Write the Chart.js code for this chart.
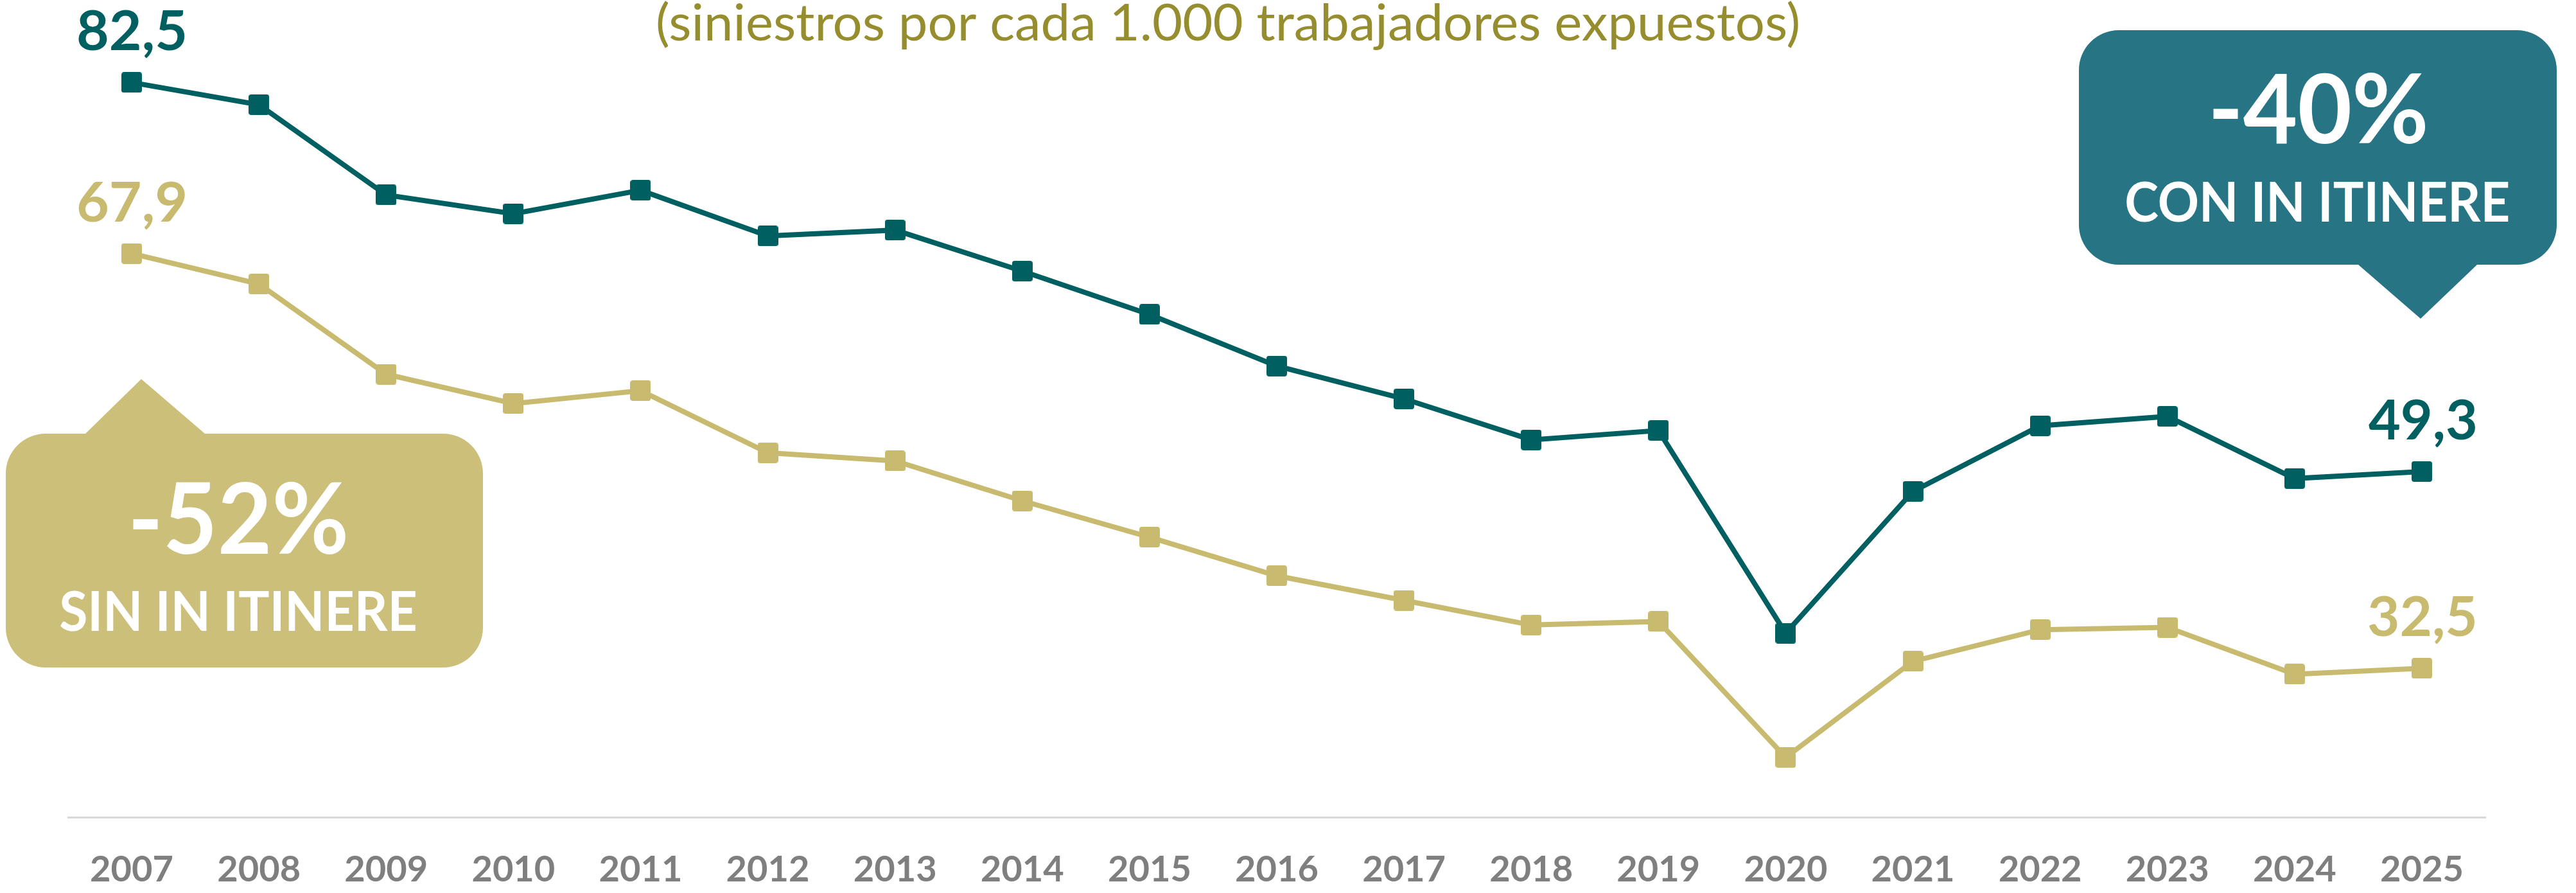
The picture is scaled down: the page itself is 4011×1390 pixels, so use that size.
<!DOCTYPE html>
<html>
<head>
<meta charset="utf-8">
<script src="https://cdn.jsdelivr.net/npm/chart.js@4.4.0/dist/chart.umd.min.js"></script>
<style>
html,body{margin:0;padding:0;background:#ffffff;overflow:hidden}
#wrap{position:relative;width:4011px;height:1390px}
</style>
</head>
<body>
<div id="wrap"><canvas id="c" width="4011" height="1390"></canvas></div>
<script>
// ---- data ----
const years = ['2007','2008','2009','2010','2011','2012','2013','2014','2015','2016','2017','2018','2019','2020','2021','2022','2023','2024','2025'];
const conItinere = [82.5, 80.6, 72.9, 71.3, 73.3, 69.4, 69.9, 66.4, 62.7, 58.3, 55.5, 52.0, 52.8, 35.5, 47.6, 53.2, 54.0, 48.7, 49.3];
const sinItinere = [67.9, 65.3, 57.6, 55.1, 56.2, 50.9, 50.2, 46.8, 43.7, 40.4, 38.3, 36.2, 36.5, 24.9, 33.1, 35.8, 36.0, 32.0, 32.5];
const valueLabelsCon = ['82,5', '49,3'];
const valueLabelsSin = ['67,9', '32,5'];
const subtitle = '(siniestros por cada 1.000 trabajadores expuestos)';
const calloutCon = ['-40%', 'CON IN ITINERE'];
const calloutSin = ['-52%', 'SIN IN ITINERE'];

const TEAL = '#005F61';
const GOLD = '#C8BB70';
const TEAL_BOX = '#277485';
const GOLD_BOX = '#CCBF7A';
const OLIVE = '#968E2E';

function inkText(ctx, text, left, right, baseline, font, color) {
  ctx.save();
  ctx.font = font;
  ctx.fillStyle = color;
  ctx.textAlign = 'left';
  ctx.textBaseline = 'alphabetic';
  const m = ctx.measureText(text);
  const inkW = m.actualBoundingBoxLeft + m.actualBoundingBoxRight;
  const sx = (right - left) / inkW;
  ctx.translate(left, baseline);
  ctx.scale(sx, 1);
  ctx.fillText(text, m.actualBoundingBoxLeft, 0);
  ctx.restore();
}

function bubble(ctx, l, t, r, b, rad, pointer, color) {
  ctx.save();
  ctx.fillStyle = color;
  ctx.beginPath();
  ctx.moveTo(l + rad, t);
  if (pointer.side === 'top') {
    ctx.lineTo(pointer.x1, t);
    ctx.lineTo(pointer.tipX, pointer.tipY);
    ctx.lineTo(pointer.x2, t);
  }
  ctx.lineTo(r - rad, t);
  ctx.arcTo(r, t, r, t + rad, rad);
  ctx.lineTo(r, b - rad);
  ctx.arcTo(r, b, r - rad, b, rad);
  if (pointer.side === 'bottom') {
    ctx.lineTo(pointer.x2, b);
    ctx.lineTo(pointer.tipX, pointer.tipY);
    ctx.lineTo(pointer.x1, b);
  }
  ctx.lineTo(l + rad, b);
  ctx.arcTo(l, b, l, b - rad, rad);
  ctx.lineTo(l, t + rad);
  ctx.arcTo(l, t, l + rad, t, rad);
  ctx.closePath();
  ctx.fill();
  ctx.restore();
}

function squareMarker(color) {
  const s = 32, r = 4;
  const cv = document.createElement('canvas');
  cv.width = s; cv.height = s;
  const c = cv.getContext('2d');
  c.fillStyle = color;
  c.beginPath();
  c.moveTo(r, 0);
  c.lineTo(s - r, 0); c.arcTo(s, 0, s, r, r);
  c.lineTo(s, s - r); c.arcTo(s, s, s - r, s, r);
  c.lineTo(r, s); c.arcTo(0, s, 0, s - r, r);
  c.lineTo(0, r); c.arcTo(0, 0, r, 0, r);
  c.closePath();
  c.fill();
  return cv;
}

const annotations = {
  id: 'annotations',
  afterDraw(chart) {
    const ctx = chart.ctx;
    inkText(ctx, subtitle, 1024, 2800, 63, '400 79px Lato', OLIVE);

    const mCon = chart.getDatasetMeta(0).data;
    const mSin = chart.getDatasetMeta(1).data;
    const last = years.length - 1;
    const lbl = (pt, text, color) => {
      inkText(ctx, text, pt.x - 83, pt.x + 83, pt.y - 50, '700 86px Lato', color);
    };
    lbl(mCon[0], valueLabelsCon[0], TEAL);
    lbl(mCon[last], valueLabelsCon[1], TEAL);
    lbl(mSin[0], valueLabelsSin[0], GOLD);
    lbl(mSin[last], valueLabelsSin[1], GOLD);

    bubble(ctx, 3237, 47, 3981, 412, 62, {side:'bottom', x1:3672, x2:3857, tipX:3769, tipY:496}, TEAL_BOX);
    inkText(ctx, calloutCon[0], 3446, 3777, 223, '700 150px Lato', '#ffffff');
    inkText(ctx, calloutCon[1], 3311, 3906, 345, '700 86px Lato', '#ffffff');

    bubble(ctx, 9, 675, 752, 1039, 62, {side:'top', x1:133, x2:319, tipX:220, tipY:590}, GOLD_BOX);
    inkText(ctx, calloutSin[0], 207, 538, 862, '700 153px Lato', '#ffffff');
    inkText(ctx, calloutSin[1], 94, 647, 982, '700 87px Lato', '#ffffff');
  }
};

const ds = (label, data, color) => ({
  label, data,
  borderColor: color,
  backgroundColor: color,
  borderWidth: 8,
  pointStyle: squareMarker(color),
  pointRadius: 16,
  pointBackgroundColor: color,
  pointBorderColor: color,
  tension: 0,
  clip: false
});

new Chart(document.getElementById('c'), {
  type: 'line',
  data: {
    labels: years,
    datasets: [
      ds('Con in itinere', conItinere, TEAL),
      ds('Sin in itinere', sinItinere, GOLD)
    ]
  },
  options: {
    responsive: false,
    animation: false,
    devicePixelRatio: 1,
    layout: { padding: { left: 106, right: 141, top: 28, bottom: 0 } },
    plugins: { legend: { display: false }, tooltip: { enabled: false }, title: { display: false } },
    scales: {
      x: {
        type: 'category',
        offset: true,
        grid: { display: false, drawTicks: false },
        border: { display: true, color: '#D9D9D9', width: 3 },
        ticks: {
          color: '#7F7F7F',
          font: { family: 'Lato', weight: '700', size: 56 },
          padding: 48,
          maxRotation: 0,
          autoSkip: false
        },
        afterFit(scale) { scale.height = 118; }
      },
      y: {
        display: false,
        min: 19.8,
        max: 88
      }
    }
  },
  plugins: [annotations]
});
</script>
</body>
</html>
